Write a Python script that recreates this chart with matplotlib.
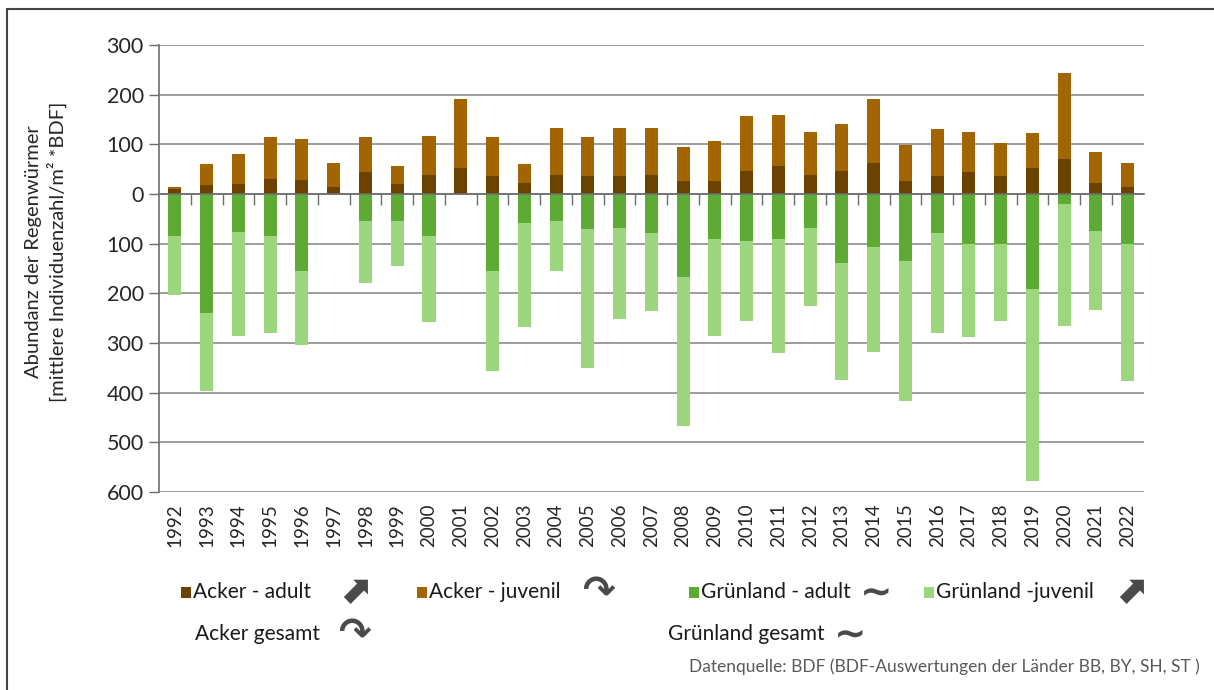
import numpy as np
import matplotlib
matplotlib.use("Agg")
import matplotlib.pyplot as plt
from matplotlib.ticker import FuncFormatter, MultipleLocator
from matplotlib.patches import Rectangle

plt.rcParams['font.family'] = ['Lato', 'DejaVu Sans']

years = [str(y) for y in range(1992, 2023)]
acker_adult = [9, 17, 20, 30, 28, 14, 44, 20, 38, 52, 36, 22, 38, 36, 36, 38,
               25, 25, 46, 57, 38, 46, 63, 25, 36, 44, 36, 52, 71, 22, 14]
acker_total = [14, 60, 81, 114, 111, 63, 114, 57, 116, 191, 114, 60, 132, 114, 132, 132,
               95, 106, 157, 159, 124, 141, 192, 98, 130, 124, 103, 122, 243, 84, 63]
gruen_adult = [84, 239, 76, 84, 156, 0, 55, 55, 84, 0, 156, 58, 55, 71, 68, 79,
               167, 90, 95, 90, 68, 140, 106, 135, 79, 100, 100, 191, 20, 74, 100]
gruen_total = [204, 396, 287, 281, 305, 0, 180, 145, 257, 0, 356, 268, 156, 351, 252, 236,
               468, 287, 255, 321, 225, 374, 318, 417, 281, 289, 255, 577, 265, 233, 377]

acker_juv = np.array(acker_total) - np.array(acker_adult)
gruen_juv = np.array(gruen_total) - np.array(gruen_adult)

c_aa = '#6b4200'
c_aj = '#a36500'
c_ga = '#5dab34'
c_gj = '#9cd77f'
grid_c = '#8c8c8c'
axis_c = '#6e6e6e'

fig = plt.figure(figsize=(12.14, 6.9), dpi=100)
ax = fig.add_axes([0.131, 0.287, 0.811, 0.648])

x = np.arange(len(years))
w = 0.41
ax.bar(x, acker_adult, w, color=c_aa, zorder=3)
ax.bar(x, acker_juv, w, bottom=acker_adult, color=c_aj, zorder=3)
ax.bar(x, -np.array(gruen_adult), w, color=c_ga, zorder=3)
ax.bar(x, -gruen_juv, w, bottom=-np.array(gruen_adult), color=c_gj, zorder=3)

ax.set_xlim(-0.5, len(years) - 0.5)
ax.set_ylim(-600, 300)
ax.yaxis.set_major_locator(MultipleLocator(100))
ax.yaxis.set_major_formatter(FuncFormatter(lambda v, p: f"{abs(int(v))}"))
ax.grid(axis='y', color=grid_c, linewidth=1.2, zorder=0)
ax.tick_params(axis='y', length=7, width=1, color=axis_c, labelsize=15.5,
               labelcolor='#262626', pad=4)

for s in ['top', 'right']:
    ax.spines[s].set_visible(False)
ax.spines['left'].set_color(axis_c)
ax.spines['left'].set_linewidth(1.2)
ax.spines['bottom'].set_position(('data', 0))
ax.spines['bottom'].set_color(axis_c)
ax.spines['bottom'].set_linewidth(1.2)
ax.spines['bottom'].set_zorder(4)

# ticks on the zero line between categories
ax.set_xticks(x[:-1] + 0.5, minor=True)
ax.set_xticks([])
ax.tick_params(axis='x', which='minor', length=8, width=1, color=axis_c, direction='out')

# year labels at the bottom of the plot
sec = ax.secondary_xaxis(0)
sec.set_xticks(x)
sec.set_xticklabels(years, rotation=90, fontsize=13.5, color='#262626')
sec.tick_params(length=0, pad=8)
sec.spines['bottom'].set_visible(False)

fig.text(0.038, 0.635, 'Abundanz der Regenwürmer\n[mittlere Individuenzahl/m² *BDF]',
         rotation=90, ha='center', va='center', fontsize=14.5, color='#262626',
         linespacing=1.25)

# legend row
leg_y = 1 - 592 / 690
items = [('Acker - adult', c_aa, 181, '⬈', 338),
         ('Acker - juvenil', c_aj, 417, '↷', 582),
         ('Grünland - adult', c_ga, 689, '∼', 860),
         ('Grünland -juvenil', c_gj, 924, '⬈', 1114)]
for label, col, px, icon, ix in items:
    fig.patches.append(Rectangle((px / 1214, leg_y - 0.009), 10 / 1214, 11 / 690,
                                 transform=fig.transFigure, facecolor=col,
                                 edgecolor='none'))
    fig.text((px + 12) / 1214, leg_y, label, fontsize=15, va='center', ha='left',
             color='#1a1a1a')
    fig.text(ix / 1214, leg_y, icon, fontsize=28, va='center', ha='left',
             color='#4a4a4a', family='DejaVu Sans', fontweight='bold')

row2 = 1 - 634 / 690
fig.text(195 / 1214, row2, 'Acker gesamt', fontsize=15, va='center', ha='left',
         color='#1a1a1a')
fig.text(338 / 1214, row2, '↷', fontsize=28, va='center', ha='left',
         color='#4a4a4a', family='DejaVu Sans', fontweight='bold')
fig.text(668 / 1214, row2, 'Grünland gesamt', fontsize=15, va='center', ha='left',
         color='#1a1a1a')
fig.text(834 / 1214, row2, '∼', fontsize=28, va='center', ha='left',
         color='#4a4a4a', family='DejaVu Sans', fontweight='bold')

fig.text(1200 / 1214, 1 - 667 / 690,
         'Datenquelle: BDF (BDF-Auswertungen der Länder BB, BY, SH, ST )',
         fontsize=12.5, ha='right', va='center', color='#595959')

# outer frame
fig.patches.append(Rectangle((7 / 1214, -0.05), 1.1, 1 - 9 / 690 + 0.05,
                             transform=fig.transFigure, fill=False,
                             edgecolor='#444444', linewidth=1.5))

fig.savefig('out.png', dpi=100)
